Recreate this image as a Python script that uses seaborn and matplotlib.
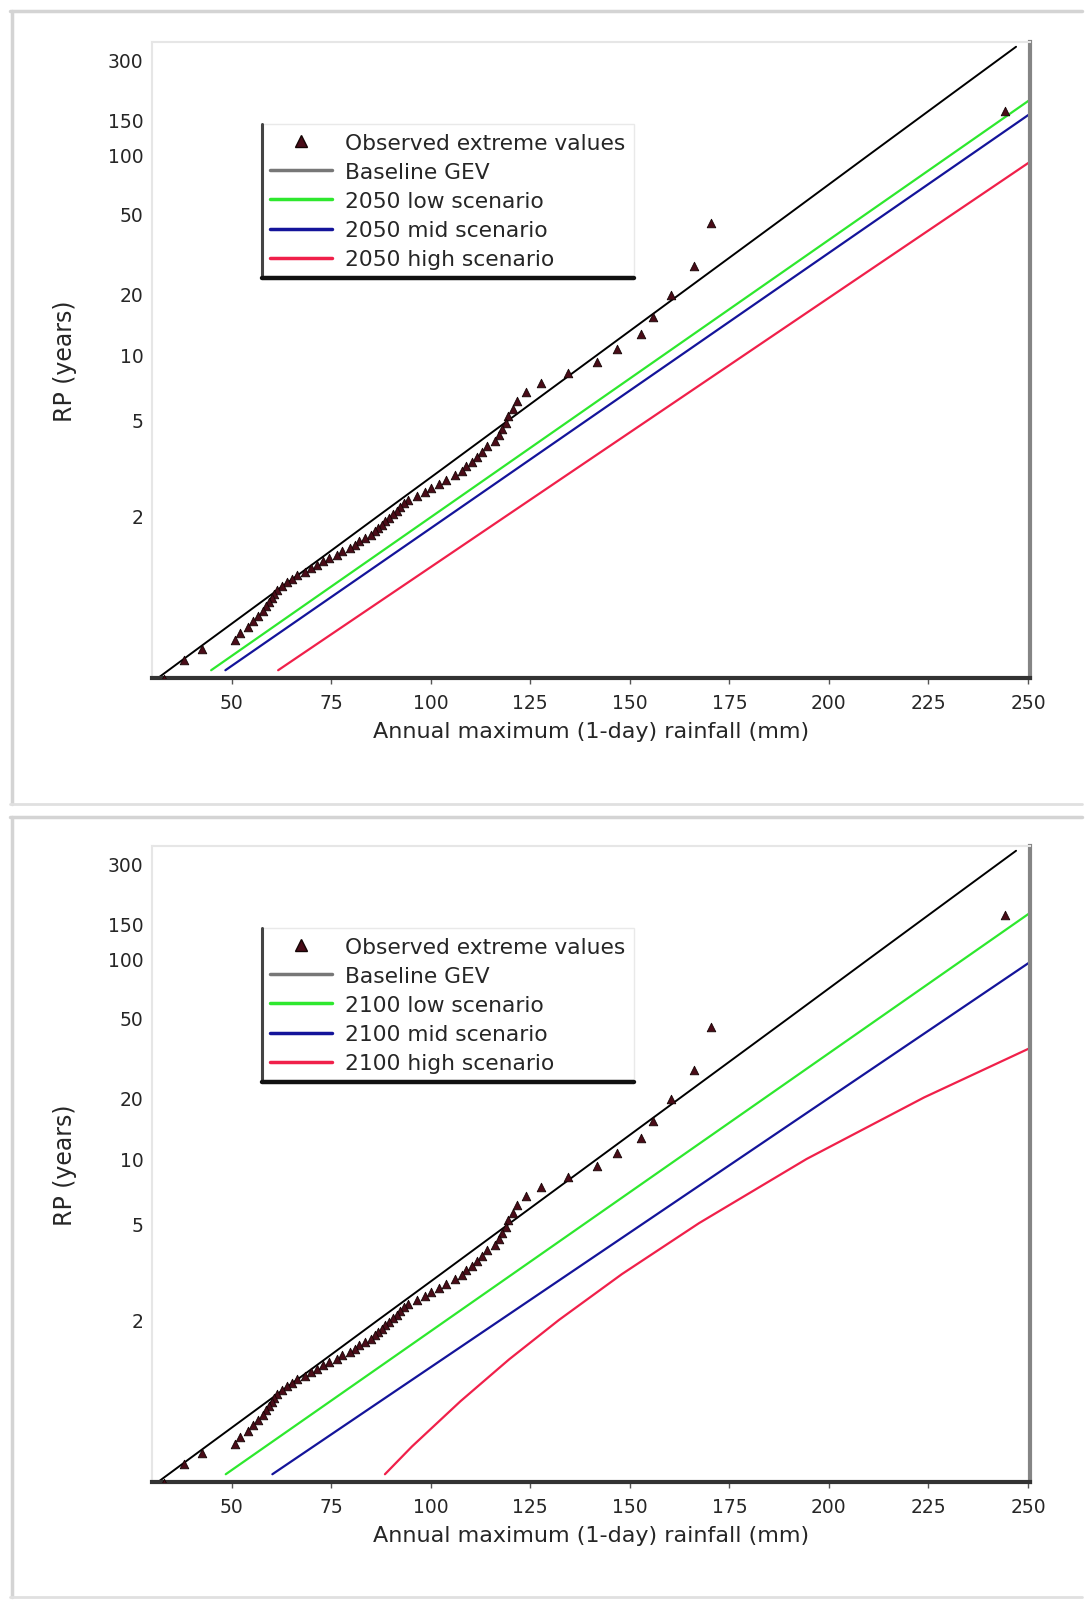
import numpy as np
import pandas as pd
import matplotlib
matplotlib.use("Agg")
import matplotlib.pyplot as plt
from matplotlib.lines import Line2D
import seaborn as sns

# ---------------- data ----------------
X_TICKS = [50, 75, 100, 125, 150, 175, 200, 225, 250]
Y_TICKS = [2, 5, 10, 20, 50, 100, 150, 300]
X_LABEL = "Annual maximum (1-day) rainfall (mm)"
Y_LABEL = "RP (years)"

# observed annual maxima (x) and their plotted return periods
OBS_RP = [165, 44.95, 27.39, 19.70, 15.38, 12.61, 10.69, 9.275, 8.192, 7.335,
          6.640, 6.066, 5.583, 5.171, 4.816, 4.506, 4.234, 3.993, 3.778, 3.585,
          3.411, 3.252, 3.108, 2.976, 2.855, 2.743, 2.640, 2.543, 2.455, 2.371,
          2.294, 2.221, 2.152, 2.088, 2.028, 1.972, 1.918, 1.867, 1.819, 1.773,
          1.729, 1.687, 1.648, 1.610, 1.573, 1.539, 1.506, 1.474, 1.444, 1.415,
          1.387, 1.360, 1.334, 1.309, 1.285, 1.261, 1.239, 1.218, 1.197, 1.177,
          1.157, 1.139, 1.120, 1.103, 1.086, 1.070, 1.054, 1.039, 1.024, 1.0096]
OBS_X = [244.3, 170.5, 166.1, 160.3, 155.9, 152.8, 146.9, 141.8, 134.4, 127.7,
         123.9, 121.6, 120.6, 119.5, 118.8, 118.0, 117.2, 116.2, 114.2, 112.9,
         111.6, 110.3, 108.8, 107.8, 106.0, 103.9, 102.1, 100.1, 98.5, 96.5,
         94.4, 93.2, 92.4, 91.6, 90.6, 89.6, 88.5, 87.8, 86.8, 86.0,
         85.0, 83.4, 82.1, 81.1, 79.6, 77.8, 76.5, 74.5, 72.9, 71.4,
         69.9, 68.3, 66.3, 65.2, 64.0, 62.7, 61.4, 60.6, 60.1, 59.4,
         58.6, 57.8, 56.5, 55.3, 54.0, 52.2, 50.9, 42.5, 38.1, 33.0]

# baseline curve
BASE_RP = [1.01, 1.05, 1.2, 1.5, 2, 3, 5, 10, 20, 50, 100, 200, 350]
BASE_X = [31.5, 43.6, 59.1, 73.4, 86.8, 102.5, 119.9, 141.8, 162.8, 190.0, 210.3, 230.6, 247.0]

# scenario curves
SCEN_RP = [1.015, 1.05, 1.2, 1.5, 2, 3, 5, 10, 20, 50, 100, 200]
X2050_LOW = [44.85, 54.87, 71.20, 86.27, 100.46, 116.98, 135.38, 158.50, 180.68, 209.39, 230.90, 252.33]
X2050_MID = [48.43, 58.52, 74.98, 90.16, 104.46, 121.10, 139.64, 162.93, 185.27, 214.20, 235.87, 257.46]
X2050_HIGH = [61.68, 72.00, 88.83, 104.36, 118.97, 135.99, 154.95, 178.77, 201.61, 231.19, 253.35, 275.0]
X2100_LOW = [48.52, 58.52, 74.83, 89.87, 104.03, 120.52, 138.88, 161.96, 184.09, 212.74, 234.21, 255.61]
X2100_MID = [60.23, 70.55, 87.38, 102.92, 117.54, 134.56, 153.52, 177.35, 200.20, 229.79, 251.95, 275.0]
X2100_HIGH = [88.5, 95.3, 107.5, 119.7, 132.2, 148.0, 167.4, 194.4, 223.9, 266.8, 290.0, 310.0]

PANELS = [
    ("2050", X2050_LOW, X2050_MID, X2050_HIGH),
    ("2100", X2100_LOW, X2100_MID, X2100_HIGH),
]

C_OBS_FACE = "#4a0c18"
C_OBS_EDGE = "#140404"
C_BASE = "#000000"
C_LOW = "#2ee82e"
C_MID = "#14149a"
C_HIGH = "#f0204a"

# ---------------- style ----------------
sns.set_theme(style="white")
plt.rcParams["font.family"] = ["DejaVu Sans"]


def fwd(t):
    t = np.clip(np.asarray(t, dtype=float), 1.0000001, None)
    return -np.log(-np.log(1.0 - 1.0 / t))


def inv(g):
    g = np.asarray(g, dtype=float)
    return 1.0 / (1.0 - np.exp(-np.exp(-g)))


W, H = 1090, 1606
fig = plt.figure(figsize=(W / 100, H / 100), dpi=100)


def fx(px):
    return px / W


def fy(py):
    return 1 - py / H


# panel frames (decorative)
for top, bot in [(12, 805), (818, 1598)]:
    fig.add_artist(Line2D([fx(10), fx(1082)], [fy(top), fy(top)], color="#d4d4d4", lw=2.5))
    fig.add_artist(Line2D([fx(12), fx(12)], [fy(top), fy(bot)], color="#d4d4d4", lw=2.5))
    fig.add_artist(Line2D([fx(10), fx(1082)], [fy(bot), fy(bot)], color="#e0e0e0", lw=2))

axes_px = [(152, 43, 1030, 679), (152, 847, 1030, 1483)]

for (yr, xlow, xmid, xhigh), (l, t, r, b) in zip(PANELS, axes_px):
    ax = fig.add_axes([fx(l), fy(b), fx(r) - fx(l), fy(t) - fy(b)])

    sns.lineplot(x=BASE_X, y=BASE_RP, ax=ax, color=C_BASE, lw=1.4,
                 estimator=None, sort=False)
    sns.lineplot(x=xlow, y=SCEN_RP, ax=ax, color=C_LOW, lw=1.6,
                 estimator=None, sort=False)
    sns.lineplot(x=xmid, y=SCEN_RP, ax=ax, color=C_MID, lw=1.6,
                 estimator=None, sort=False)
    sns.lineplot(x=xhigh, y=SCEN_RP, ax=ax, color=C_HIGH, lw=1.6,
                 estimator=None, sort=False)
    sns.scatterplot(x=OBS_X, y=OBS_RP, ax=ax, marker="^", s=38,
                    color=C_OBS_FACE, edgecolor=C_OBS_EDGE, linewidth=0.6,
                    zorder=5)

    ax.set_yscale("function", functions=(fwd, inv))
    ax.set_xlim(30, 250.5)
    ax.set_ylim(1.01, 370)
    ax.set_yticks(Y_TICKS)
    ax.set_yticklabels([str(v) for v in Y_TICKS])
    ax.yaxis.set_minor_locator(matplotlib.ticker.NullLocator())
    ax.set_xticks(X_TICKS)
    ax.set_xticklabels([str(v) for v in X_TICKS])
    ax.tick_params(axis="x", labelsize=13.5, length=4, width=1, color="#555555",
                   pad=7, direction="out", bottom=True)
    ax.tick_params(axis="y", labelsize=13.5, length=0, pad=6)
    ax.set_xlabel(X_LABEL, fontsize=16, labelpad=6)
    ax.set_ylabel(Y_LABEL, fontsize=17, labelpad=22)

    for side in ["left", "top"]:
        ax.spines[side].set_color("#e6e6e6")
        ax.spines[side].set_linewidth(1.5)
    ax.spines["right"].set_color("#858585")
    ax.spines["right"].set_linewidth(3)
    ax.spines["bottom"].set_color("#333333")
    ax.spines["bottom"].set_linewidth(3)
    ax.grid(False)

    handles = [
        Line2D([], [], marker="^", ls="none", markersize=8,
               markerfacecolor=C_OBS_FACE, markeredgecolor=C_OBS_EDGE),
        Line2D([], [], color="#777777", lw=2.5),
        Line2D([], [], color=C_LOW, lw=2.5),
        Line2D([], [], color=C_MID, lw=2.5),
        Line2D([], [], color=C_HIGH, lw=2.5),
    ]
    labels = ["Observed extreme values", "Baseline GEV",
              f"{yr} low scenario", f"{yr} mid scenario", f"{yr} high scenario"]
    leg = ax.legend(handles, labels, loc="upper left",
                    bbox_to_anchor=(0.125, 0.871), borderaxespad=0,
                    fontsize=15.7, frameon=True, fancybox=False,
                    edgecolor="#e4e4e4", handlelength=2.8, handletextpad=0.6,
                    labelspacing=0.42, borderpad=0.4)
    leg.get_frame().set_linewidth(1.0)

    fig.canvas.draw()
    bb = leg.get_window_extent().transformed(fig.transFigure.inverted())
    fig.add_artist(Line2D([bb.x0, bb.x0], [bb.y0, bb.y1], color="#444444", lw=2.2))
    fig.add_artist(Line2D([bb.x0, bb.x1], [bb.y0, bb.y0], color="#111111", lw=3.2))

fig.savefig("out.png", dpi=100)
